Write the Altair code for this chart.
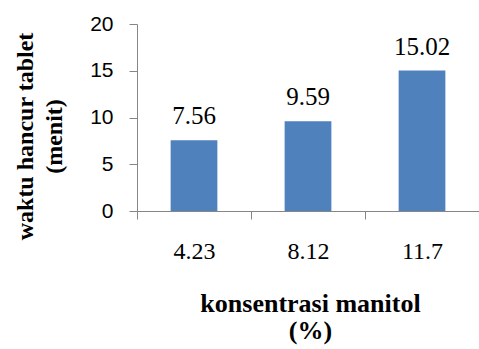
import altair as alt
import pandas as pd

categories = ["4.23", "8.12", "11.7"]
values = [7.56, 9.59, 15.02]
y_ticks = [0, 5, 10, 15, 20]

df = pd.DataFrame({"konsentrasi": categories, "waktu": values})

AXIS_GRAY = "#868686"
BAR = "#4F81BD"
SERIF = "Liberation Serif"
SANS = "Liberation Sans"

base = alt.Chart(df).encode(
    x=alt.X(
        "konsentrasi:N",
        sort=categories,
        scale=alt.Scale(paddingInner=0, paddingOuter=0),
        axis=alt.Axis(
            title=["konsentrasi manitol", "(%)"],
            labelAngle=0,
            labelFont=SERIF,
            labelFontSize=24,
            labelColor="black",
            labelPadding=20,
            domainColor=AXIS_GRAY,
            tickColor=AXIS_GRAY,
            tickSize=8,
            tickBand="extent",
            titleFont=SERIF,
            titleFontWeight="bold",
            titleFontSize=26,
            titleLineHeight=27,
            titleLimit=400,
            titleColor="black",
            titleX=173,
            titleY=100,
            titleAlign="center",
            titleBaseline="alphabetic",
        ),
    ),
    y=alt.Y(
        "waktu:Q",
        scale=alt.Scale(domain=[0, 20], nice=False),
        axis=alt.Axis(
            values=y_ticks,
            grid=False,
            title=["waktu hancur tablet", "(menit)"],
            labelFont=SANS,
            labelFontSize=21,
            labelColor="black",
            labelPadding=16,
            domainColor=AXIS_GRAY,
            tickColor=AXIS_GRAY,
            tickSize=8,
            titleFont=SERIF,
            titleFontWeight="bold",
            titleFontSize=24,
            titleLineHeight=29,
            titleLimit=400,
            titleColor="black",
            titleX=-105,
            titleY=112,
            titleAlign="center",
            titleBaseline="alphabetic",
        ),
    ),
)

bars = base.mark_bar(color=BAR, width=alt.RelativeBandSize(0.41))
labels = base.mark_text(
    font=SERIF, fontSize=25, color="black", baseline="alphabetic", dy=-16
).encode(text=alt.Text("waktu:Q", format=".2f"))

chart = (
    alt.layer(bars, labels)
    .properties(
        width=342,
        height=187,
        autosize=alt.AutoSizeParams(type="none"),
        padding={"left": 137, "top": 24, "right": 0, "bottom": 138},
    )
    .configure_view(stroke=None)
)

chart.save("out.html", embed_options={"renderer": "svg", "actions": False})
